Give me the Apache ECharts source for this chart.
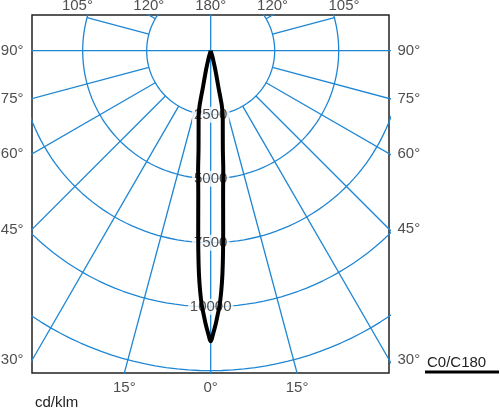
<!DOCTYPE html>
<html>
<head>
<meta charset="utf-8">
<script src="https://cdn.jsdelivr.net/npm/echarts@6/dist/echarts.min.js"></script>
<style>
html,body{margin:0;padding:0;background:#fff;}
#c{width:500px;height:409px;}
</style>
</head>
<body>
<div id="c"></div>
<script>
// ---- data ----
const gammaDeg = [0, 0.5, 1, 1.5, 2, 2.5, 3, 3.5, 4, 5, 6, 7, 8, 9, 10, 11, 12, 13, 14, 15, 16, 17];
const intensityC0 = [11350, 11050, 10720, 10330, 9950, 9420, 8750, 7900, 6990, 5560, 4700, 3900, 3400, 3020, 2720, 2425, 1430, 960, 670, 400, 250, 0];
const intensityC180 = [11350, 11050, 10720, 10330, 9950, 9420, 8750, 7900, 6990, 5560, 4700, 3900, 3400, 3020, 2720, 2425, 1430, 960, 670, 400, 250, 0];
const ringValues = [2500, 5000, 7500, 10000, 12500];
const ringLabels = ['2500', '5000', '7500', '10000'];
const spokeAngles = [15, 30, 45, 60, 75, 105, 120, 135, 150, 165];
const sideTickAngles = [90, 75, 60, 45, 30];
const topTickAngles = [105, 120];
const bottomTickAngles = [15];
const unitLabel = 'cd/klm';
const legendLabel = 'C0/C180';

// ---- layout ----
const X_MIN = -6980, X_MAX = 6965, Y_MIN = -12590, Y_MAX = 1395;
const BLUE = '#1f86d3';
const FONT = '"Liberation Sans", Arial, sans-serif';
const rad = d => d * Math.PI / 180;
const pol = (deg, r) => [r * Math.sin(rad(deg)), -r * Math.cos(rad(deg))];

const series = [];
const gridLine = (data) => ({
  type: 'line', data, showSymbol: false, symbol: 'none', silent: true,
  lineStyle: { color: BLUE, width: 1.3 }, z: 1, clip: true, animation: false
});

// rings
ringValues.forEach(r => {
  const pts = [];
  for (let a = 0; a <= 360; a += 2) pts.push(pol(a, r));
  series.push(gridLine(pts));
});
// spokes
spokeAngles.forEach(a => {
  const rOuter = a > 90 ? ringValues[1] : 40000;
  [a, -a].forEach(s => series.push(gridLine([pol(s, ringValues[0]), pol(s, rOuter)])));
});
// main axes through center
series.push(gridLine([pol(0, 40000), pol(180, 40000)]));
series.push(gridLine([pol(-90, 40000), pol(90, 40000)]));

// ring value labels
series.push({
  type: 'scatter', silent: true, animation: false, z: 2, clip: false,
  symbol: 'rect', symbolSize: 1, itemStyle: { color: 'rgba(0,0,0,0)' },
  data: ringLabels.map((t, i) => ({ value: [0, -ringValues[i]], name: t })),
  label: {
    show: true, position: 'inside', formatter: p => p.name,
    color: '#222', fontFamily: FONT, fontSize: 15,
    backgroundColor: '#fff', padding: [1, 2, 0, 2]
  }
});

// angle tick labels around the frame
const tickData = [];
sideTickAngles.forEach(a => {
  tickData.push({ value: [X_MIN, -(-X_MIN / Math.sin(rad(a))) * Math.cos(rad(a))], name: a + '°', pos: 'left' });
  tickData.push({ value: [X_MAX, -(X_MAX / Math.sin(rad(a))) * Math.cos(rad(a))], name: a + '°', pos: 'right' });
});
topTickAngles.forEach(a => {
  const r = Y_MAX / (-Math.cos(rad(a)));
  tickData.push({ value: [-r * Math.sin(rad(a)), Y_MAX], name: a + '°', pos: 'top' });
  tickData.push({ value: [r * Math.sin(rad(a)), Y_MAX], name: a + '°', pos: 'top' });
});
tickData.push({ value: [0, Y_MAX], name: '180°', pos: 'top' });
bottomTickAngles.forEach(a => {
  const r = -Y_MIN / Math.cos(rad(a));
  tickData.push({ value: [-r * Math.sin(rad(a)), Y_MIN], name: a + '°', pos: 'bottom' });
  tickData.push({ value: [r * Math.sin(rad(a)), Y_MIN], name: a + '°', pos: 'bottom' });
});
tickData.push({ value: [0, Y_MIN], name: '0°', pos: 'bottom' });
series.push({
  type: 'scatter', silent: true, animation: false, z: 2, clip: false,
  symbol: 'rect', symbolSize: 1, itemStyle: { color: 'rgba(0,0,0,0)' },
  data: tickData.map(d => ({
    value: d.value, name: d.name,
    label: { position: d.pos, distance: d.pos === 'top' ? 1 : (d.pos === 'bottom' ? 7 : 8) }
  })),
  label: { show: true, formatter: p => p.name, color: '#222', fontFamily: FONT, fontSize: 15 }
});

// luminous intensity curve (C0 right, C180 left)
const curve = [];
for (let i = gammaDeg.length - 1; i >= 0; i--) curve.push(pol(-gammaDeg[i], intensityC180[i]));
for (let i = 1; i < gammaDeg.length; i++) curve.push(pol(gammaDeg[i], intensityC0[i]));
series.push({
  type: 'line', name: legendLabel, data: curve, showSymbol: false, symbol: 'none',
  smooth: 0.4, silent: true, animation: false, z: 5,
  lineStyle: { color: '#000', width: 4, join: 'round' }
});

const chart = echarts.init(document.getElementById('c'), null, { renderer: 'canvas' });
chart.setOption({
  animation: false,
  backgroundColor: '#fff',
  grid: { left: 32, top: 15, width: 357, height: 358, show: true, borderColor: '#222', borderWidth: 1.5, backgroundColor: 'transparent' },
  xAxis: { type: 'value', min: X_MIN, max: X_MAX, show: false },
  yAxis: { type: 'value', min: Y_MIN, max: Y_MAX, show: false },
  series,
  graphic: [
    { type: 'text', left: 35, top: 395, style: { text: unitLabel, font: '15px ' + FONT, fill: '#222' } },
    { type: 'text', left: 427, top: 355, style: { text: legendLabel, font: '15px ' + FONT, fill: '#222' } },
    { type: 'line', shape: { x1: 425, y1: 372, x2: 499, y2: 372 }, style: { stroke: '#000', lineWidth: 3 } }
  ]
});
</script>
</body>
</html>
